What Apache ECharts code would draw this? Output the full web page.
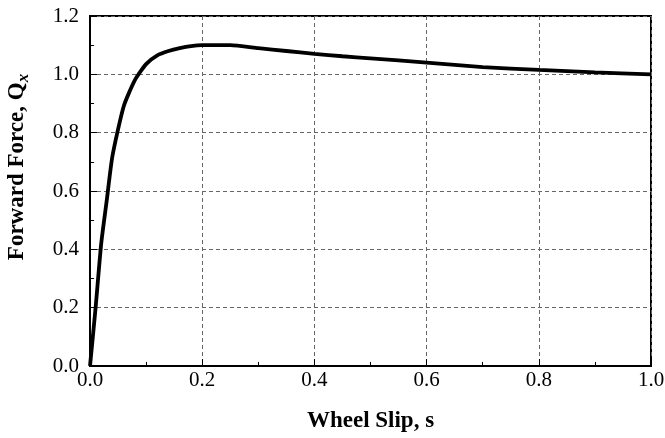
<!doctype html>
<html lang="en">
<head>
<meta charset="UTF-8">
<title>Forward Force vs Wheel Slip</title>
<script src="https://cdn.jsdelivr.net/npm/echarts@6/dist/echarts.min.js"></script>
<style>
  html, body { margin: 0; padding: 0; background: #fff; }
  #main { width: 665px; height: 438px; }
</style>
</head>
<body>
<div id="main"></div>
<script>
// wheel slip values (x) and forward force (y)
var slip  = [0, 0.01, 0.02, 0.03, 0.04, 0.06, 0.08, 0.10, 0.12, 0.14, 0.16, 0.18, 0.20, 0.25, 0.30, 0.35, 0.40, 0.45, 0.50, 0.60, 0.70, 0.80, 0.90, 1.00];
var force = [0, 0.20, 0.42, 0.57, 0.72, 0.89, 0.98, 1.035, 1.065, 1.08, 1.09, 1.097, 1.10, 1.10, 1.09, 1.08, 1.07, 1.062, 1.055, 1.04, 1.025, 1.015, 1.007, 1.0];

var points = [];
for (var i = 0; i < slip.length; i++) {
  points.push([slip[i], force[i]]);
}

var myChart = echarts.init(document.getElementById('main'));

var fontSerif = '"Liberation Serif", "Times New Roman", serif';

var option = {
  animation: false,
  backgroundColor: '#fff',
  grid: {
    left: 90,
    right: 14,
    top: 16,
    bottom: 72,
    outerBoundsMode: 'none',
    show: true,
    borderColor: '#000',
    borderWidth: 2
  },
  xAxis: {
    type: 'value',
    min: 0,
    max: 1.0,
    interval: 0.2,
    name: 'Wheel Slip, s',
    nameLocation: 'middle',
    nameGap: 44,
    nameTextStyle: { fontFamily: fontSerif, fontWeight: 'bold', fontSize: 23, color: '#000' },
    axisLine: { lineStyle: { color: '#000', width: 2 } },
    axisTick: { inside: true, length: 7, lineStyle: { color: '#000', width: 1 } },
    minorTick: { show: true, splitNumber: 2, length: 4, lineStyle: { color: '#000', width: 1 } },
    axisLabel: {
      margin: 4,
      fontFamily: fontSerif, fontSize: 21, color: '#000',
      formatter: function (v) { return v.toFixed(1); }
    },
    splitLine: { show: true, lineStyle: { color: '#666', type: [4, 3], width: 1 } }
  },
  yAxis: {
    type: 'value',
    min: 0,
    max: 1.2,
    interval: 0.2,
    name: '{a|Forward Force, Q}{b|x}',
    nameLocation: 'middle',
    nameGap: 58,
    nameTextStyle: {
      fontFamily: fontSerif, fontWeight: 'bold', fontSize: 23, color: '#000',
      padding: [0, 0, 0, 48],
      rich: {
        a: { fontFamily: fontSerif, fontWeight: 'bold', fontSize: 23, color: '#000' },
        b: { fontFamily: fontSerif, fontWeight: 'bold', fontStyle: 'italic', fontSize: 17, color: '#000', padding: [12, 0, 0, 0] }
      }
    },
    axisLine: { lineStyle: { color: '#000', width: 2 } },
    axisTick: { inside: true, length: 7, lineStyle: { color: '#000', width: 1 } },
    minorTick: { show: true, splitNumber: 2, length: 4, lineStyle: { color: '#000', width: 1 } },
    axisLabel: {
      margin: 11,
      fontFamily: fontSerif, fontSize: 21, color: '#000',
      formatter: function (v) { return v.toFixed(1); }
    },
    splitLine: { show: true, lineStyle: { color: '#666', type: [4, 3], width: 1 } }
  },
  series: [
    {
      type: 'line',
      data: points,
      smooth: 0.2,
      symbol: 'none',
      lineStyle: { color: '#000', width: 3.8 }
    }
  ]
};

myChart.setOption(option);
</script>
</body>
</html>
